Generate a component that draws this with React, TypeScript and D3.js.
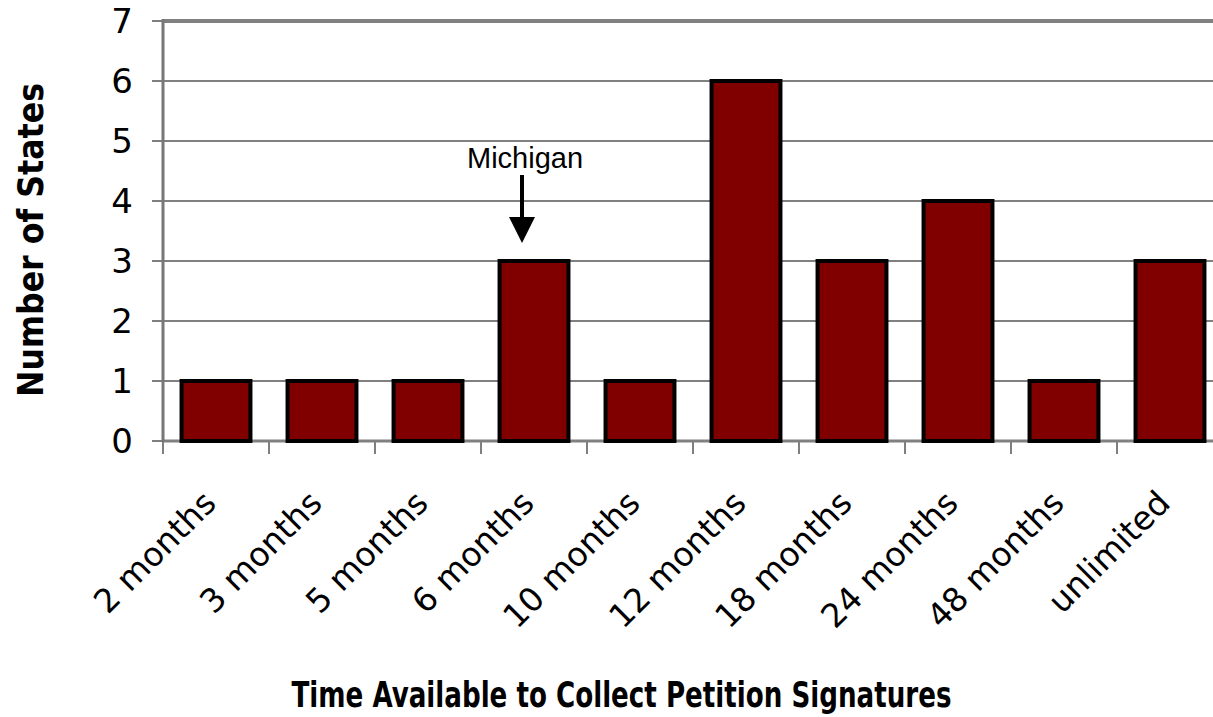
import React, { useRef, useEffect } from 'react';
import * as d3 from 'd3';

const categories = [
  '2 months',
  '3 months',
  '5 months',
  '6 months',
  '10 months',
  '12 months',
  '18 months',
  '24 months',
  '48 months',
  'unlimited',
];
const stateCounts = [1, 1, 1, 3, 1, 6, 3, 4, 1, 3];
const yTicks = [0, 1, 2, 3, 4, 5, 6, 7];
const callout = { category: '6 months', label: 'Michigan' };

const App = () => {
  const ref = useRef<SVGSVGElement>(null);

  useEffect(() => {
    const svg = d3.select(ref.current);
    svg.selectAll('*').remove();

    const width = 1213;
    const height = 717;
    const left = 163;
    const right = 1223;
    const top = 21;
    const bottom = 441;

    svg.attr('width', width).attr('height', height);

    const x = d3.scaleBand().domain(categories).range([left, right]).padding(0);
    const y = d3.scaleLinear().domain([0, 7]).range([bottom, top]);

    // gridlines
    svg
      .append('g')
      .selectAll('line')
      .data(yTicks.slice(1))
      .enter()
      .append('line')
      .attr('x1', left)
      .attr('x2', right)
      .attr('y1', (d) => y(d))
      .attr('y2', (d) => y(d))
      .attr('stroke', '#808080')
      .attr('stroke-width', (d) => (d === 7 ? 4 : 2));

    // y tick marks + labels
    const yAxis = svg.append('g');
    yAxis
      .selectAll('line')
      .data(yTicks)
      .enter()
      .append('line')
      .attr('x1', left - 11)
      .attr('x2', left)
      .attr('y1', (d) => y(d))
      .attr('y2', (d) => y(d))
      .attr('stroke', '#555')
      .attr('stroke-width', 1.5);
    yAxis
      .selectAll('text')
      .data(yTicks)
      .enter()
      .append('text')
      .attr('x', 133)
      .attr('y', (d) => y(d) + 12)
      .attr('text-anchor', 'end')
      .attr('font-family', 'DejaVu Sans')
      .attr('font-size', 34)
      .attr('fill', '#000')
      .text((d) => d);

    // x tick marks at band boundaries
    svg
      .append('g')
      .selectAll('line')
      .data(categories)
      .enter()
      .append('line')
      .attr('x1', (d) => x(d)!)
      .attr('x2', (d) => x(d)!)
      .attr('y1', bottom)
      .attr('y2', bottom + 13)
      .attr('stroke', '#555')
      .attr('stroke-width', 1.5);

    // axis lines
    svg
      .append('line')
      .attr('x1', left)
      .attr('x2', right)
      .attr('y1', bottom)
      .attr('y2', bottom)
      .attr('stroke', '#808080')
      .attr('stroke-width', 3);
    svg
      .append('line')
      .attr('x1', left)
      .attr('x2', left)
      .attr('y1', top - 2)
      .attr('y2', bottom)
      .attr('stroke', '#777')
      .attr('stroke-width', 3);

    // bars
    const barW = x.bandwidth() * 0.65;
    svg
      .append('g')
      .selectAll('rect')
      .data(stateCounts)
      .enter()
      .append('rect')
      .attr('x', (d, i) => x(categories[i])! + (x.bandwidth() - barW) / 2)
      .attr('y', (d) => y(d))
      .attr('width', barW)
      .attr('height', (d) => bottom - y(d))
      .attr('fill', '#800000')
      .attr('stroke', '#000')
      .attr('stroke-width', 4);

    // x labels
    svg
      .append('g')
      .selectAll('text')
      .data(categories)
      .enter()
      .append('text')
      .attr('text-anchor', 'end')
      .attr(
        'transform',
        (d) => `translate(${x(d)! + x.bandwidth() / 2 + 2},505) rotate(-45)`
      )
      .attr('font-family', 'DejaVu Sans')
      .attr('font-size', 33)
      .attr('fill', '#000')
      .text((d) => d);

    // callout
    const idx = categories.indexOf(callout.category);
    const cx = x(callout.category)! + x.bandwidth() / 2 - 12;
    const tipY = y(stateCounts[idx]) - 18;
    svg
      .append('text')
      .attr('x', cx + 3)
      .attr('y', tipY - 75)
      .attr('text-anchor', 'middle')
      .attr('font-family', 'Liberation Sans')
      .attr('font-size', 29)
      .attr('fill', '#000')
      .text(callout.label);
    svg
      .append('line')
      .attr('x1', cx)
      .attr('x2', cx)
      .attr('y1', tipY - 68)
      .attr('y2', tipY - 22)
      .attr('stroke', '#000')
      .attr('stroke-width', 4);
    svg
      .append('path')
      .attr('d', `M${cx - 13},${tipY - 26} L${cx + 13},${tipY - 26} L${cx},${tipY} Z`)
      .attr('fill', '#000');

    // axis titles
    svg
      .append('text')
      .attr('x', (left + 1080) / 2)
      .attr('y', 707)
      .attr('text-anchor', 'middle')
      .attr('font-family', 'DejaVu Sans')
      .attr('font-weight', 'bold')
      .attr('font-size', 36)
      .attr('textLength', 660)
      .attr('lengthAdjust', 'spacingAndGlyphs')
      .attr('fill', '#000')
      .text('Time Available to Collect Petition Signatures');
    svg
      .append('text')
      .attr('transform', 'translate(43,240) rotate(-90)')
      .attr('text-anchor', 'middle')
      .attr('font-family', 'DejaVu Sans')
      .attr('font-weight', 'bold')
      .attr('font-size', 36)
      .attr('textLength', 314)
      .attr('lengthAdjust', 'spacingAndGlyphs')
      .attr('fill', '#000')
      .text('Number of States');
  }, []);

  return (
    <svg
      ref={ref}
      style={{ position: 'absolute', left: 0, top: 0, background: '#fff' }}
    ></svg>
  );
};

export default App;
